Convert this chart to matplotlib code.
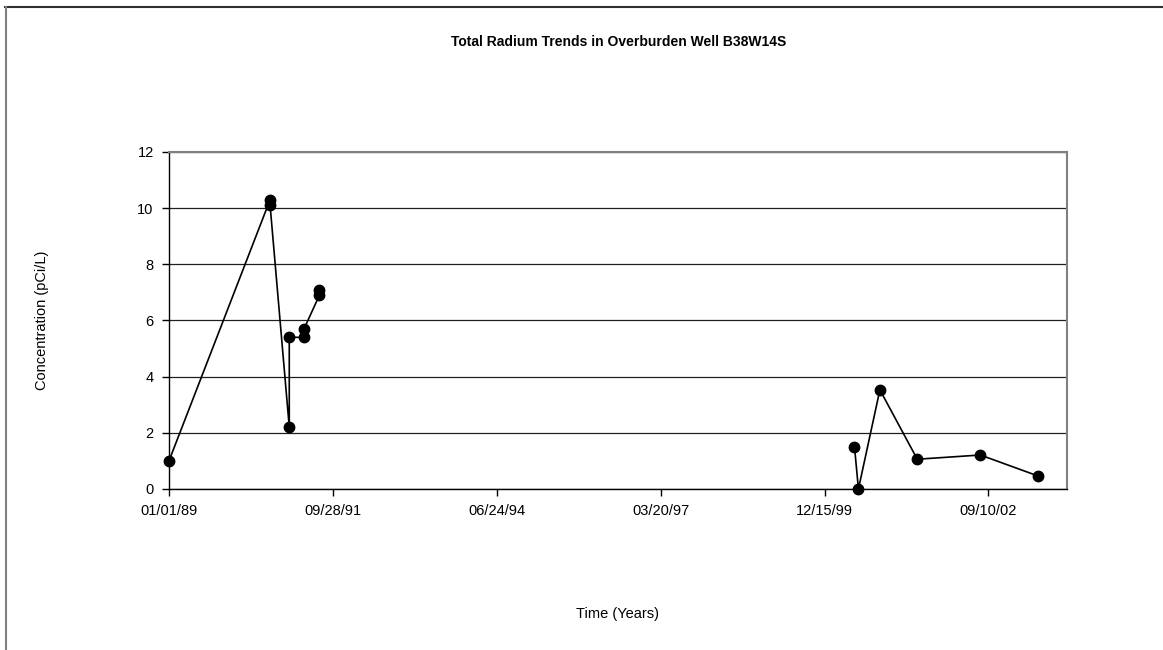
import datetime as dt
import matplotlib
matplotlib.use("Agg")
import matplotlib.pyplot as plt
import matplotlib.dates as mdates
from matplotlib.lines import Line2D

plt.rcParams['font.family'] = ['Liberation Sans', 'DejaVu Sans']

# total radium results (pCi/L); the two sampling periods are not joined
early_dates = ["1989-01-01", "1990-09-10", "1990-09-10", "1991-01-05", "1991-01-05",
               "1991-04-05", "1991-04-05", "1991-07-08", "1991-07-08"]
early_conc = [1.0, 10.3, 10.1, 2.2, 5.4, 5.4, 5.7, 6.9, 7.1]

recent_dates = ["2000-06-15", "2000-07-09", "2000-11-17", "2001-07-03",
                "2002-07-23", "2003-07-07"]
recent_conc = [1.5, 0.0, 3.53, 1.06, 1.21, 0.47]

y_ticks = [0, 2, 4, 6, 8, 10, 12]

start = dt.datetime(1989, 1, 1)
x_ticks = [start + dt.timedelta(days=1000 * i) for i in range(6)]


def to_dates(lst):
    return [dt.datetime.strptime(d, "%Y-%m-%d") for d in lst]


fig = plt.figure(figsize=(11.63, 6.5), dpi=100)
ax = fig.add_axes([0.1453, 0.2477, 0.7722, 0.5185])

for d, c in [(early_dates, early_conc), (recent_dates, recent_conc)]:
    ax.plot(to_dates(d), c, color='black', lw=1.2, marker='o', ms=7.5,
            mfc='black', mec='black', zorder=3, clip_on=False)

ax.set_xlim(start, start + dt.timedelta(days=5480))
ax.set_ylim(0, 12)
ax.set_xticks(x_ticks)
ax.xaxis.set_major_formatter(mdates.DateFormatter('%m/%d/%y'))
ax.set_yticks(y_ticks)
ax.grid(axis='y', color='#202020', lw=0.9)
ax.set_axisbelow(True)

for s in ['top', 'right']:
    ax.spines[s].set_color('#808080')
    ax.spines[s].set_linewidth(1.5)
for s in ['left', 'bottom']:
    ax.spines[s].set_color('black')
    ax.spines[s].set_linewidth(1.0)
ax.tick_params(direction='out', length=5, width=1, labelsize=10.5, pad=6)

fig.text(0.5315, 1 - 42 / 650, 'Total Radium Trends in Overburden Well B38W14S',
         ha='center', va='center', fontsize=10, fontweight='bold')
fig.text(42 / 1163, 1 - 320 / 650, 'Concentration (pCi/L)', rotation=90,
         ha='center', va='center', fontsize=10.5)
fig.text(618 / 1163, 1 - 614 / 650, 'Time (Years)', ha='center', va='center',
         fontsize=10.5)

# outer chart border (top and left only, as in the source)
fig.add_artist(Line2D([5 / 1163, 1], [1 - 6.5 / 650] * 2, color='#303030', lw=1.5,
                      transform=fig.transFigure))
fig.add_artist(Line2D([5.5 / 1163] * 2, [0, 1 - 6.5 / 650], color='#808080', lw=1.5,
                      transform=fig.transFigure))

fig.savefig('out.png', dpi=100)
